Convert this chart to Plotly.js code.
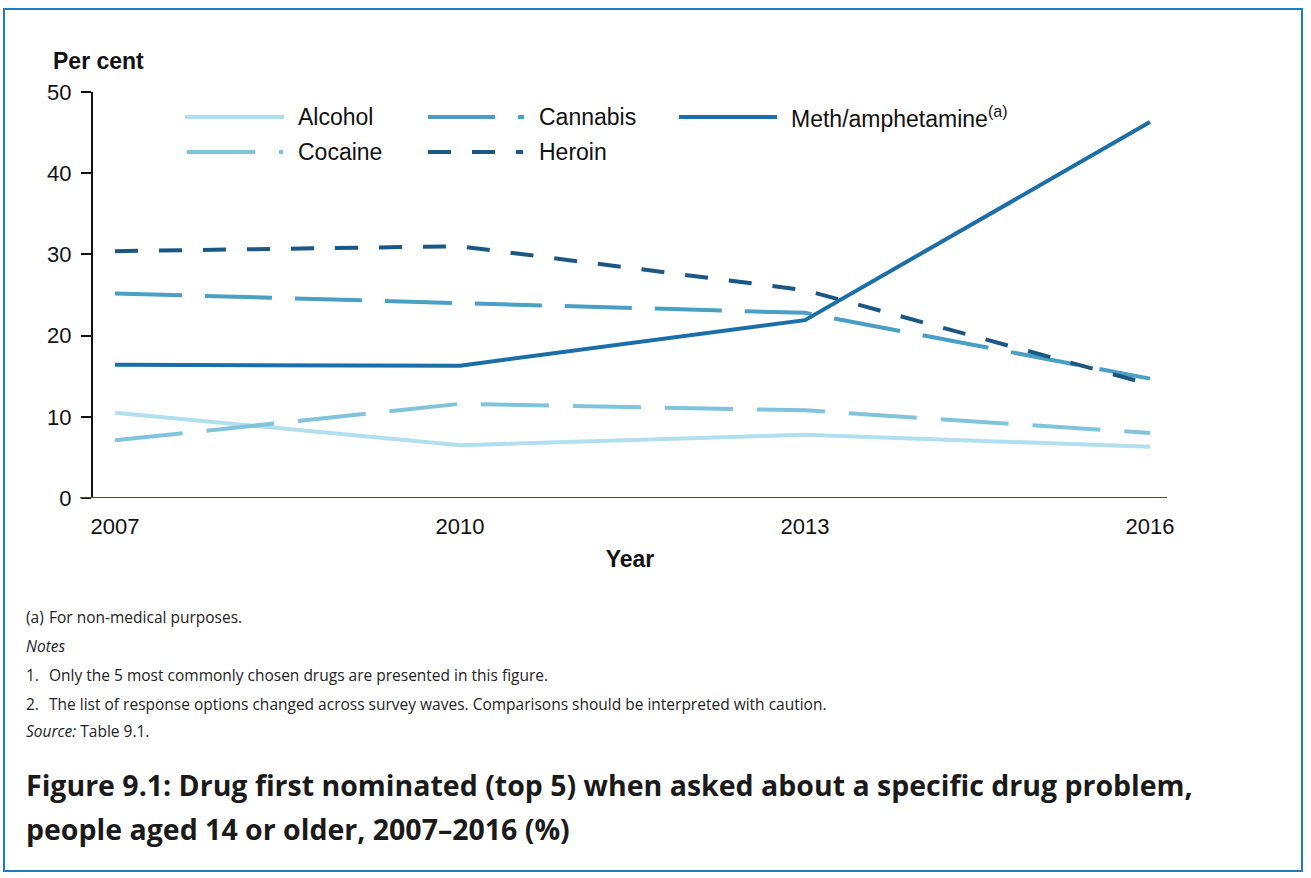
<!DOCTYPE html>
<html>
<head>
<meta charset="utf-8">
<script src="https://cdn.plot.ly/plotly-3.0.1.min.js"></script>
<style>
html,body{margin:0;padding:0;background:#fff;}
#chart{width:1311px;height:878px;}
</style>
</head>
<body>
<div id="chart"></div>
<script>
// ---- Data ----
const years = [2007, 2010, 2013, 2016];
const alcohol = [10.5, 6.5, 7.8, 6.3];
const cocaine = [7.1, 11.6, 10.8, 8.0];
const cannabis = [25.2, 24.0, 22.8, 14.7];
const heroin = [30.4, 31.0, 25.6, 14.0];
const meth = [16.4, 16.3, 21.9, 46.3];
const seriesNames = ["Alcohol", "Cocaine", "Cannabis", "Heroin", "Meth/amphetamine<sup>(a)</sup>"];
const yTicks = [0, 10, 20, 30, 40, 50];

// ---- Layout helpers (pixel -> paper) ----
const L = 93, R = 1167, T = 92, B = 498, W = 1311, H = 878;
const px = x => (x - L) / (R - L);
const py = y => (B - y) / (B - T);

const colors = {
  alcohol: "#b2dff0",
  cocaine: "#80c4dc",
  cannabis: "#4a9fc5",
  heroin: "#1b5785",
  meth: "#1b6ea8"
};
const dashes = {
  alcohol: "solid",
  cocaine: "68px,24px",
  cannabis: "67px,23px",
  heroin: "23px,21px",
  meth: "solid"
};

function tr(y, key, name) {
  return {x: years, y: y, type: "scatter", mode: "lines", name: name,
    line: {color: colors[key], width: 4, dash: dashes[key]}, showlegend: false, hoverinfo: "x+y+name"};
}
const data = [
  tr(alcohol, "alcohol", seriesNames[0]),
  tr(cocaine, "cocaine", seriesNames[1]),
  tr(cannabis, "cannabis", seriesNames[2]),
  tr(heroin, "heroin", seriesNames[3]),
  tr(meth, "meth", seriesNames[4])
];

const shapes = [];
const annotations = [];
const FONT = "Liberation Sans, Arial, sans-serif";
const NOTEFONT = "Open Sans, Noto Sans, sans-serif";

// zero line
shapes.push({type: "line", xref: "paper", yref: "y", x0: px(80), x1: 1, y0: 0, y1: 0,
  line: {color: "#a3233a", width: 2}});
// frame
shapes.push({type: "rect", xref: "paper", yref: "paper", x0: px(4), x1: px(1302), y0: py(9), y1: py(871),
  line: {color: "#1f7cc0", width: 2}, fillcolor: "rgba(0,0,0,0)", layer: "below"});

// legend
function legendItem(key, x0, x1, yPix, tx, label) {
  shapes.push({type: "line", xref: "paper", yref: "paper", x0: px(x0), x1: px(x1), y0: py(yPix), y1: py(yPix),
    line: {color: colors[key], width: 4, dash: dashes[key]}});
  annotations.push({xref: "paper", yref: "paper", x: px(tx), y: py(yPix), xanchor: "left", yanchor: "middle",
    text: label, showarrow: false, font: {family: FONT, size: 23, color: "#111"}});
}
legendItem("alcohol", 185, 284, 117, 296, seriesNames[0]);
legendItem("cocaine", 187, 283, 152, 296, seriesNames[1]);
legendItem("cannabis", 428, 524, 117, 537, seriesNames[2]);
legendItem("heroin", 428, 523, 152, 537, seriesNames[3]);
legendItem("meth", 679, 777, 117, 789, seriesNames[4]);

// Per cent label
annotations.push({xref: "paper", yref: "paper", x: px(51), y: py(61), xanchor: "left", yanchor: "middle",
  text: "<b>Per cent</b>", showarrow: false, font: {family: FONT, size: 23, color: "#111"}});

// notes
function note(x, y, text, italic) {
  annotations.push({xref: "paper", yref: "paper", x: px(x), y: py(y), xanchor: "left", yanchor: "middle",
    text: italic ? "<i>" + text + "</i>" : text, showarrow: false, font: {family: NOTEFONT, size: 15.5, color: "#222"}});
}
note(24, 617, "(a)");
note(47, 617, "For non-medical purposes.");
note(24, 646, "Notes", true);
note(24, 675, "1.");
note(47, 675, "Only the 5 most commonly chosen drugs are presented in this figure.");
note(24, 704, "2.");
note(47, 704, "The list of response options changed across survey waves. Comparisons should be interpreted with caution.");
annotations.push({xref: "paper", yref: "paper", x: px(24), y: py(731), xanchor: "left", yanchor: "middle",
  text: "<i>Source:</i> Table 9.1.", showarrow: false, font: {family: NOTEFONT, size: 15.5, color: "#222"}});

// figure title
annotations.push({xref: "paper", yref: "paper", x: px(24), y: py(785), xanchor: "left", yanchor: "middle",
  text: "<b>Figure 9.1: Drug first nominated (top 5) when asked about a specific drug problem,</b>", showarrow: false,
  font: {family: NOTEFONT, size: 28.5, color: "#1a1a1a"}});
annotations.push({xref: "paper", yref: "paper", x: px(24), y: py(829), xanchor: "left", yanchor: "middle",
  text: "<b>people aged 14 or older, 2007–2016 (%)</b>", showarrow: false,
  font: {family: NOTEFONT, size: 28.5, color: "#1a1a1a"}});

const layout = {
  width: W, height: H,
  margin: {l: L, r: W - R, t: T, b: H - B, pad: 0},
  paper_bgcolor: "#fff", plot_bgcolor: "#fff",
  showlegend: false,
  font: {family: FONT, color: "#111"},
  xaxis: {
    range: [2007 - 22 / 115, 2007 + (R - 115) / 115],
    tickvals: years, ticktext: years.map(String),
    showline: false, showgrid: false, zeroline: false,
    ticks: "", ticklabelstandoff: 13,
    tickfont: {family: FONT, size: 22, color: "#111"},
    title: {text: "<b>Year</b>", font: {family: FONT, size: 23, color: "#111"}, standoff: 12}
  },
  yaxis: {
    range: [0, 50], tickvals: yTicks,
    showline: true, linecolor: "#111", linewidth: 2,
    ticks: "outside", ticklen: 10, tickwidth: 2, tickcolor: "#111",
    showgrid: false, zeroline: false,
    tickfont: {family: FONT, size: 22, color: "#111"}, ticklabelstandoff: 5
  },
  shapes: shapes,
  annotations: annotations
};

Plotly.newPlot("chart", data, layout, {displayModeBar: false, staticPlot: true});
</script>
</body>
</html>
